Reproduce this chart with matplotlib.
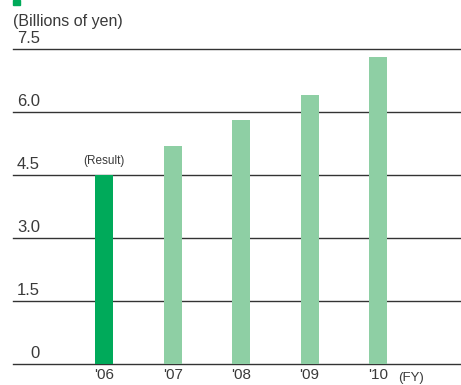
import numpy as np
import matplotlib.pyplot as plt
from matplotlib.transforms import blended_transform_factory
from matplotlib.patches import Rectangle

# Data
years = ["'06", "'07", "'08", "'09", "'10"]
values = [4.5, 5.2, 5.8, 6.4, 7.3]
bar_colors = ["#00aa5a", "#8ecfa4", "#8ecfa4", "#8ecfa4", "#8ecfa4"]
yticks = [0, 1.5, 3.0, 4.5, 6.0, 7.5]
ytick_labels = ["0", "1.5", "3.0", "4.5", "6.0", "7.5"]

plt.rcParams['font.family'] = ['Liberation Sans', 'DejaVu Sans']

W, H = 461, 385
fig = plt.figure(figsize=(W / 100, H / 100), dpi=100)
ax = fig.add_axes([13 / W, 21 / H, (W - 13) / W, 315 / H])

x = np.arange(len(years))
ax.bar(x, values, width=0.263, color=bar_colors, zorder=3)

for t in yticks:
    ax.axhline(t, color="#333333", linewidth=1.0, zorder=2, clip_on=False)

ax.set_xlim(-1.33, 5.21)
ax.set_ylim(0, 7.5)
ax.axis("off")

# y labels, right aligned just above each line
tr_y = blended_transform_factory(fig.transFigure, ax.transData)
for t, lab in zip(yticks, ytick_labels):
    fig.text(40 / W, t + 0.08, lab, transform=tr_y, ha="right", va="bottom",
             fontsize=12, color="#3a3a3a")

# x labels
for xi, lab in zip(x, years):
    ax.text(xi, -0.09, lab, ha="center", va="top", fontsize=11, color="#3a3a3a")
ax.text(4.48, -0.2, "(FY)", ha="center", va="top", fontsize=9.5, color="#3a3a3a")

ax.text(0, values[0] + 0.2, "(Result)", ha="center", va="bottom", fontsize=8.5, color="#3a3a3a")

fig.text(13 / W, 1 - 29 / H, "(Billions of yen)", ha="left", va="bottom", fontsize=11.5, color="#3a3a3a")
fig.patches.append(Rectangle((13 / W, 1 - 5 / H), 7 / W, 5 / H, transform=fig.transFigure,
                             color="#00aa5a"))

fig.savefig("out.png", dpi=100)
